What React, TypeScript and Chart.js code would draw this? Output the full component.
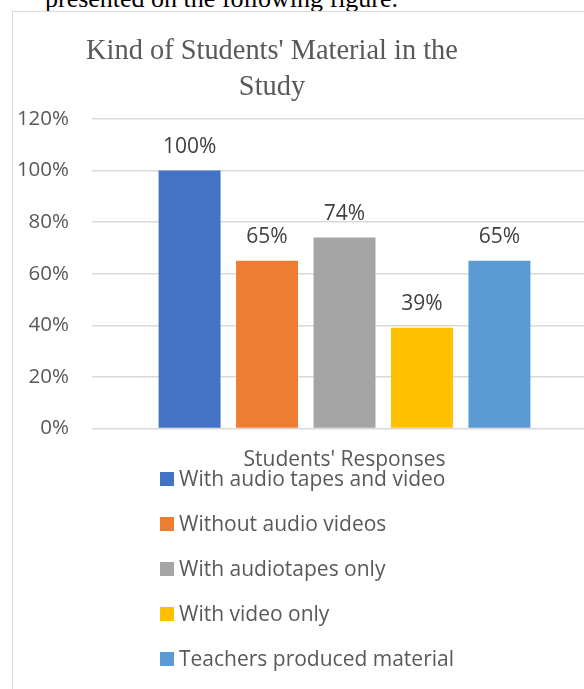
import React, { useEffect, useRef } from 'react';
import { Chart, registerables } from 'chart.js';

Chart.register(...registerables);

const categories = [''];
const seriesLabels = [
  'With audio tapes and video',
  'Without audio videos',
  'With audiotapes only',
  'With video only',
  'Teachers produced material',
];
const seriesValues = [1.0, 0.65, 0.74, 0.39, 0.65];
const seriesColors = ['#4472C4', '#ED7D31', '#A5A5A5', '#FFC000', '#5B9BD5'];
const yMin = 0;
const yMax = 1.2;
const yStep = 0.2;
const titleLines = ["Kind of Students' Material in the", 'Study'];
const xTitle = "Students' Responses";
const pageText = 'presented on the following figure.';

const pct = (v: number) => `${Math.round(v * 100)}%`;

const overlayPlugin = {
  id: 'overlay',
  afterDraw(chart: any) {
    const ctx = chart.ctx as CanvasRenderingContext2D;
    ctx.save();
    // Title
    ctx.fillStyle = '#595959';
    ctx.font = '28.4px "Liberation Serif", "Times New Roman", serif';
    ctx.textAlign = 'center';
    ctx.textBaseline = 'alphabetic';
    titleLines.forEach((t, i) => ctx.fillText(t, 259, 46.5 + 36 * i));
    // Data labels
    ctx.font = '21px "Open Sans", sans-serif';
    ctx.fillStyle = '#404040';
    chart.data.datasets.forEach((ds: any, i: number) => {
      const el = chart.getDatasetMeta(i).data[0];
      if (el) ctx.fillText(pct(ds.data[0]), el.x, el.y - 18);
    });
    // Legend
    ctx.textAlign = 'left';
    chart.data.datasets.forEach((ds: any, i: number) => {
      const top = 460 + 45 * i;
      ctx.fillStyle = ds.backgroundColor;
      ctx.fillRect(147, top, 14, 14);
      ctx.fillStyle = '#595959';
      ctx.fillText(ds.label, 166, top + 14);
    });
    ctx.restore();
  },
};

export default function App() {
  const ref = useRef<HTMLCanvasElement>(null);

  useEffect(() => {
    if (!ref.current) return;
    const chart = new Chart(ref.current, {
      type: 'bar',
      data: {
        labels: categories,
        datasets: seriesLabels.map((label, i) => ({
          label,
          data: [seriesValues[i]],
          backgroundColor: seriesColors[i],
          borderWidth: 0,
          categoryPercentage: 0.767,
          barPercentage: 0.8,
        })),
      },
      options: {
        responsive: false,
        animation: false,
        devicePixelRatio: 1,
        layout: { padding: { top: 107, right: 16, bottom: 219.4, left: 0 } },
        plugins: {
          legend: { display: false },
          title: { display: false },
          tooltip: { enabled: false },
        },
        scales: {
          x: {
            grid: { display: false, drawTicks: false },
            border: { display: false },
            ticks: { display: false },
            title: {
              display: true,
              text: xTitle,
              color: '#595959',
              font: { family: '"Open Sans", sans-serif', size: 21, lineHeight: 1.2 },
              padding: { top: 19, bottom: 0 },
            },
          },
          y: {
            min: yMin,
            max: yMax,
            afterFit: (scale: any) => {
              scale.width = 79;
            },
            ticks: {
              stepSize: yStep,
              padding: 23,
              color: '#595959',
              font: { family: '"Open Sans", sans-serif', size: 20.5 },
              callback: (v: any) => pct(Number(v)),
            },
            grid: { color: '#d9d9d9', lineWidth: 1.5, drawTicks: false },
            border: { display: false },
          },
        },
      },
      plugins: [overlayPlugin],
    });
    return () => chart.destroy();
  }, []);

  return (
    <div
      style={{
        position: 'absolute',
        left: 0,
        top: 0,
        width: 584,
        height: 689,
        overflow: 'hidden',
        background: '#fff',
      }}
    >
      <div
        style={{
          position: 'absolute',
          left: 45,
          top: -14,
          font: '26px "Liberation Serif", "Times New Roman", serif',
          lineHeight: '26px',
          color: '#000',
          whiteSpace: 'nowrap',
        }}
      >
        {pageText}
      </div>
      <div
        style={{
          position: 'absolute',
          left: 12,
          top: 11,
          border: '1px solid #d9d9d9',
          background: '#fff',
          width: 600,
          height: 680,
        }}
      >
        <canvas ref={ref} width={600} height={680} style={{ display: 'block' }} />
      </div>
    </div>
  );
}
